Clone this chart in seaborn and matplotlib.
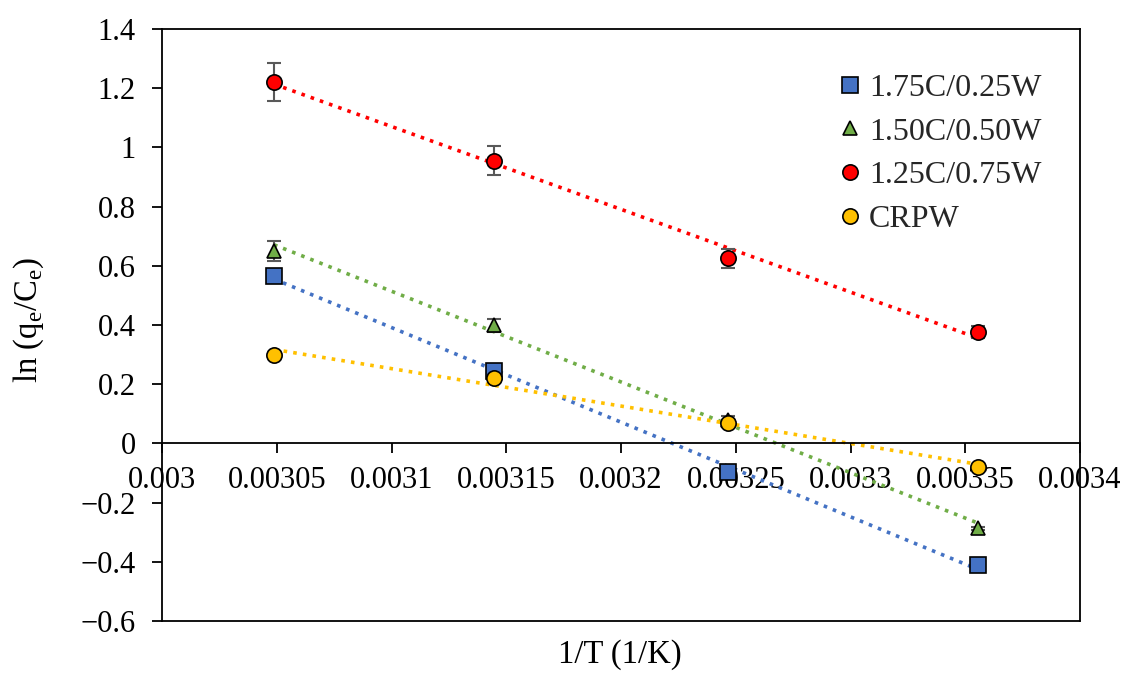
import numpy as np
import pandas as pd
import seaborn as sns
import matplotlib
matplotlib.use('Agg')
import matplotlib.pyplot as plt
from matplotlib.ticker import FuncFormatter, MultipleLocator

# 1/T for 328, 318, 308, 298 K
inv_t = [1 / 328, 1 / 318, 1 / 308, 1 / 298]

labels = ['1.75C/0.25W', '1.50C/0.50W', '1.25C/0.75W', 'CRPW']
ln_blue = [0.565, 0.245, -0.098, -0.412]
ln_green = [0.650, 0.400, 0.080, -0.287]
ln_red = [1.220, 0.955, 0.625, 0.375]
ln_yellow = [0.300, 0.220, 0.070, -0.080]

err_blue = [0.018, 0.008, 0.004, 0.004]
err_green = [0.035, 0.022, 0.012, 0.006]
err_red = [0.064, 0.049, 0.032, 0.020]
err_yellow = [0.006, 0.006, 0.010, 0.004]

series = [
    (labels[0], ln_blue, err_blue, '#4472C4', 's'),
    (labels[1], ln_green, err_green, '#70AD47', '^'),
    (labels[2], ln_red, err_red, '#FF0000', 'o'),
    (labels[3], ln_yellow, err_yellow, '#FFC000', 'o'),
]

sns.set_theme(style='white')
plt.rcParams['font.family'] = ['Liberation Serif', 'DejaVu Serif']
plt.rcParams['axes.unicode_minus'] = True

fig = plt.figure(figsize=(11.25, 6.75), dpi=100)
ax = fig.add_axes([0.144, 0.08, 0.816, 0.877])

handles = []
for name, y, err, col, mk in series:
    df = pd.DataFrame({'x': inv_t, 'y': y})
    # excel style linear trendline
    sns.regplot(data=df, x='x', y='y', ax=ax, scatter=False, ci=None,
                line_kws={'color': col, 'linestyle': (0, (1, 1.7)), 'linewidth': 2.6})
    ax.errorbar(inv_t, y, yerr=err, fmt='none', ecolor='#595959',
                elinewidth=1.5, capsize=5, capthick=1.5, zorder=3)
    ms = 10 if mk == '^' else 11
    h, = ax.plot(inv_t, y, linestyle='none', marker=mk, markersize=ms,
                 markerfacecolor=col, markeredgecolor='black',
                 markeredgewidth=1.2, zorder=4, label=name)
    handles.append(h)

ax.set_xlim(0.003, 0.0034)
ax.set_ylim(-0.6, 1.4)
ax.xaxis.set_major_locator(MultipleLocator(0.00005))
ax.yaxis.set_major_locator(MultipleLocator(0.2))

def fmt(v, pos):
    s = '%g' % round(v, 8)
    return s.replace('-', '\u2212')

ax.xaxis.set_major_formatter(FuncFormatter(fmt))
ax.yaxis.set_major_formatter(FuncFormatter(fmt))

for sp in ax.spines.values():
    sp.set_color('black')
    sp.set_linewidth(1.3)
ax.spines['bottom'].set_position(('data', 0))
ax.plot([0, 1], [0, 0], transform=ax.transAxes, color='black',
        linewidth=1.3, clip_on=False)

ax.tick_params(axis='both', which='major', direction='out', length=7,
               width=1.3, color='black', labelsize=22, labelcolor='black')
ax.tick_params(axis='x', pad=9, bottom=True)
ax.tick_params(axis='y', pad=12, left=True)

ax.set_xlabel('')
ax.set_ylabel('')
fig.text(0.026, 0.526, 'ln (q$_\\mathregular{e}$/C$_\\mathregular{e}$)',
         fontsize=23.5, rotation=90, ha='center', va='center', color='black')
fig.text(0.551, 0.03, '1/T (1/K)', fontsize=23.5, ha='center', va='center',
         color='black')

ax.legend(handles=handles, loc='upper right', bbox_to_anchor=(0.958, 0.925),
          frameon=False, fontsize=23, handlelength=0.6, handletextpad=0.3,
          labelspacing=0.45, borderaxespad=0, borderpad=0)

fig.savefig('out.png', dpi=100)
